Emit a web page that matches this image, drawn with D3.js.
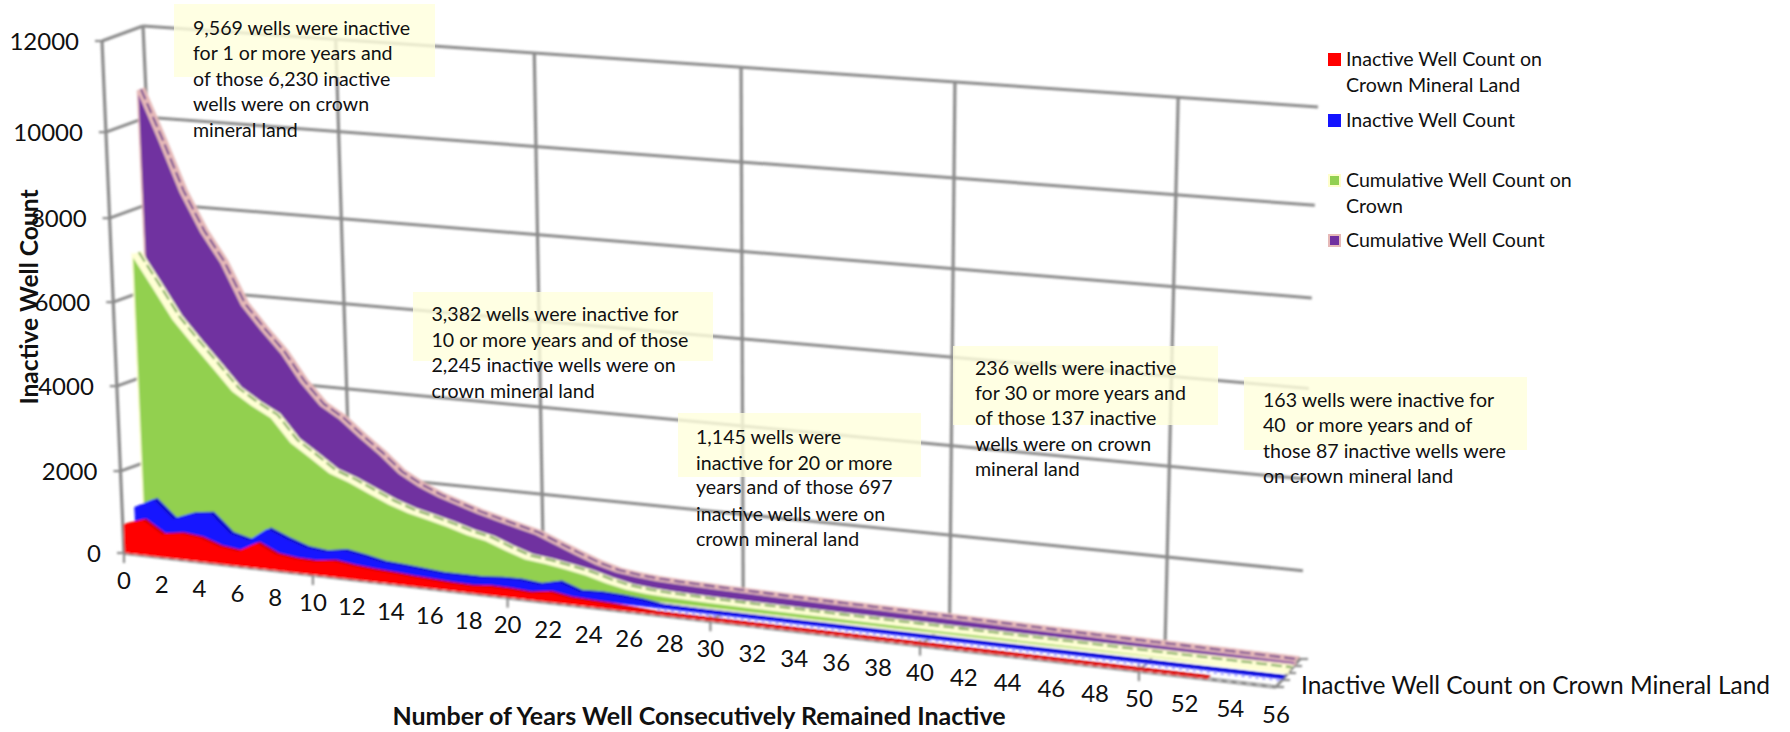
<!DOCTYPE html>
<html><head><meta charset="utf-8">
<script src="https://cdn.jsdelivr.net/npm/d3@7/dist/d3.min.js"></script>
<style>html,body{margin:0;padding:0;background:#fff}svg{display:block}text{font-family:Lato,"Open Sans",sans-serif;fill:#111}</style>
</head><body><svg id="c" width="1790" height="732"></svg>
<script>
const years = d3.range(0, 57);
const yTicks = [0, 2000, 4000, 6000, 8000, 10000, 12000];
const xLabelYears = d3.range(0, 57, 2);
const xGridYears = [10, 20, 30, 40, 50];
const crownCount = [680,840,540,610,560,400,340,590,370,310,300,365,300,260,235,200,175,150,140,180,170,140,210,130,110,90,60,25,22,20,18,17,16,15,14,14,13,12,12,11,11,10,10,9,9,8,8,7,7,6,6,5,5,4];
const wellCount = [1000,1240,810,990,1050,610,490,820,630,470,420,500,420,320,290,250,210,210,210,250,260,210,320,150,170,150,110,40,34,30,28,26,25,24,22,22,20,19,18,18,17,16,16,15,14,14,13,13,12,12,11,11,10,10,9,9,8];
const cumCrown = [6950,6230,5500,4960,4450,3930,3640,3400,2860,2560,2245,2080,1870,1660,1500,1390,1270,1130,1030,850,697,640,560,470,340,240,195,170,155,145,137,132,126,120,115,110,106,101,97,92,87,84,80,77,73,70,66,62,58,55,50,47,43,40,36,33,30];
const cumWell = [10650,9569,8400,7500,6800,5850,5300,4800,4150,3650,3382,3000,2650,2250,2000,1800,1650,1500,1380,1260,1145,950,760,580,450,390,350,330,315,300,290,280,270,260,250,240,232,224,216,208,200,190,180,170,160,150,142,134,126,118,110,104,98,92,85,78,70];
const legendRows = [
  {label:["Inactive Well Count on","Crown Mineral Land"], fill:"#ff0000", border:"#ff0000", y:59},
  {label:["Inactive Well Count"], fill:"#1414ff", border:"#1414ff", y:120},
  {label:["Cumulative Well Count on","Crown"], fill:"#92d050", border:"#ffffcc", y:180},
  {label:["Cumulative Well Count"], fill:"#7030a0", border:"#e6b9b8", y:240}
];
const notes = [
  {box:[174,4,261,73], x:193, ys:[28,53.5,79,104.5,130], lines:["9,569 wells were inactive","for 1 or more years and","of those 6,230 inactive","wells were on crown","mineral land"]},
  {box:[413,292,300,69], x:431.5, ys:[314,340,365,391], lines:["3,382 wells were inactive for","10 or more years and of those","2,245 inactive wells were on","crown mineral land"]},
  {box:[678,413,243,64], x:696, ys:[437,463,487,514,539], lines:["1,145 wells were","inactive for 20 or more","years and of those 697","inactive wells were on","crown mineral land"]},
  {box:[953,346,265,79], x:975, ys:[368,393,418,444,469], lines:["236 wells were inactive","for 30 or more years and","of those 137 inactive","wells were on crown","mineral land"]},
  {box:[1244,377,283,73], x:1263, ys:[400,425,451,476], lines:["163 wells were inactive for","40  or more years and of","those 87 inactive wells were","on crown mineral land"]}
];

// Perspective frame of the 3D chart
const tOf = d3.scaleLinear().domain([0,10,20,30,40,50,56]).range([0,.164,.333,.509,.691,.881,1]);
const hOf = d3.scaleLinear().domain(yTicks).range([0,.160,.326,.490,.654,.822,1]);
const FB = t => [124+(1276-124)*t, 553+(687-553)*t];
const FT = t => [102+(1294-102)*t, 41+(135-41)*t];
const BB = t => [166+(1300-166)*t, 538+(659-538)*t];
const BT = t => [143+(1318-143)*t, 26+(107-26)*t];
function P(u,v,w){
  const t=tOf(u), h=hOf(v), a=FB(t), b=FT(t), c=BB(t), d=BT(t);
  const fx=a[0]+(b[0]-a[0])*h, fy=a[1]+(b[1]-a[1])*h, bx=c[0]+(d[0]-c[0])*h, by=c[1]+(d[1]-c[1])*h;
  return [fx+(bx-fx)*w, fy+(by-fy)*w];
}

const svg = d3.select("#c");
const defs = svg.append("defs");
defs.append("filter").attr("id","soft").append("feGaussianBlur").attr("stdDeviation",0.8);
const g = svg.append("g").attr("filter","url(#soft)");
const gridColor = "#8a8a8a";
const seg = (a,b,sw=3,col=gridColor,dash=null)=>g.append("line").attr("x1",a[0]).attr("y1",a[1]).attr("x2",b[0]).attr("y2",b[1]).attr("stroke",col).attr("stroke-width",sw).attr("stroke-dasharray",dash);

// walls
yTicks.forEach(v=>{
  seg(P(0,v,0),P(0,v,1));
  seg(P(0,v,1),P(56,v,1));
  seg(P(0,v,0),[P(0,v,0)[0]-7,P(0,v,0)[1]],2.2);
});
seg(P(0,0,0),P(0,12000,0),3.2);
seg(P(0,0,1),P(0,12000,1),3.2);
xGridYears.forEach(u=>{
  seg(P(u,0,1),P(u,12000,1),3.2);
  seg(P(u,0,0),P(u,0,1),2.4);
});
// floor
seg(P(0,0,0),P(56,0,0),3.6);
seg(P(0,0,0),P(56,0,0),1,"#e4e4e4","5 5");
seg(P(0,0,1),P(56,0,1),3);
seg(P(0,0,0),P(0,0,1),2.8);
seg(P(56,0,0),P(56,0,1),2.8);
[0,.25,.5,.75,1].forEach(w=>{const p=P(56,0,w);seg(p,[p[0]+8,p[1]],2.2);});
[0,...xGridYears].forEach(u=>{const p=P(u,0,0);seg([p[0],p[1]-6],[p[0],p[1]+10],2.2);});

// series layers, back to front
const layers = [
  {vals:cumWell, w1:.80, w2:.97, fill:"#7030a0", rim:"#e6b9b8", line:"#5b2a8a", lw:.885, dash:"11 4", sw:1.8},
  {vals:cumCrown, w1:.50, w2:.72, fill:"#92d050", rim:"#ffffd4", line:"#5f9a3a", lw:.66, dash:"11 4", sw:1.8},
  {vals:wellCount, w1:.30, w2:.40, fill:"#1414ff", rim:"#1010cc", line:null, under:"#8a8aff"},
  {vals:crownCount, w1:.03, w2:.11, fill:"#ff0000", rim:"#cc0000", line:null}
];
layers.forEach(L=>{
  const pts = L.vals.map((v,i)=>({u:years[i],v}));
  const top = d3.area().x0(d=>P(d.u,d.v,L.w1)[0]).y0(d=>P(d.u,d.v,L.w1)[1]).x1(d=>P(d.u,d.v,L.w2)[0]).y1(d=>P(d.u,d.v,L.w2)[1]);
  const face = d3.area().x0(d=>P(d.u,0,L.w1)[0]).y0(d=>P(d.u,0,L.w1)[1]).x1(d=>P(d.u,d.v,L.w1)[0]).y1(d=>P(d.u,d.v,L.w1)[1]);
  g.append("path").attr("d",top(pts)).attr("fill",L.rim).attr("stroke",L.rim).attr("stroke-width",1);
  g.append("path").attr("d",face(pts)).attr("fill",L.fill).attr("stroke",L.line?L.rim:L.fill).attr("stroke-width",L.line?1.6:1);
  if(L.line){
    const ln=d3.line().x(d=>P(d.u,d.v,L.lw)[0]).y(d=>P(d.u,d.v,L.lw)[1]);
    g.append("path").attr("d",ln(pts)).attr("fill","none").attr("stroke",L.line).attr("stroke-width",L.sw).attr("stroke-dasharray",L.dash);
  }
  if(L.under){
    const ln=d3.line().x(d=>P(d.u,0,L.w1-.07)[0]).y(d=>P(d.u,0,L.w1-.07)[1]);
    g.append("path").attr("d",ln(pts.slice(27))).attr("fill","none").attr("stroke",L.under).attr("stroke-width",1.6).attr("stroke-dasharray","3 4");
  }
});

// annotation boxes
notes.forEach(n=>svg.append("rect").attr("x",n.box[0]).attr("y",n.box[1]).attr("width",n.box[2]).attr("height",n.box[3]).attr("fill","#ffffdc").attr("opacity",.8));
notes.forEach(n=>n.lines.forEach((s,i)=>svg.append("text").attr("x",n.x).attr("y",n.ys[i]).attr("dy",".35em").attr("font-size",19.6).style("white-space","pre").text(s)));

// y labels
yTicks.forEach(v=>{const p=P(0,v,0);svg.append("text").attr("x",p[0]-23).attr("y",p[1]).attr("dy",".36em").attr("text-anchor","end").attr("font-size",24).text(v);});
// x labels
xLabelYears.forEach(u=>{const p=P(u,0,0);svg.append("text").attr("x",p[0]).attr("y",p[1]+27).attr("dy",".36em").attr("text-anchor","middle").attr("font-size",24).text(u);});
// titles
svg.append("text").attr("transform","translate(29,297) rotate(-90)").attr("dy",".36em").attr("text-anchor","middle").attr("font-size",24.6).attr("font-weight",700).text("Inactive Well Count");
svg.append("text").attr("x",699).attr("y",716).attr("dy",".36em").attr("text-anchor","middle").attr("font-size",25).attr("font-weight",700).text("Number of Years Well Consecutively Remained Inactive");
svg.append("text").attr("x",1301).attr("y",685).attr("dy",".36em").attr("font-size",24.5).text("Inactive Well Count on Crown Mineral Land");
// legend
legendRows.forEach(r=>{
  svg.append("rect").attr("x",1329).attr("y",r.y-5).attr("width",11).attr("height",11).attr("fill",r.fill).attr("stroke",r.border).attr("stroke-width",2);
  r.label.forEach((s,i)=>svg.append("text").attr("x",1346).attr("y",r.y+i*26).attr("dy",".35em").attr("font-size",19.6).text(s));
});
</script></body></html>
